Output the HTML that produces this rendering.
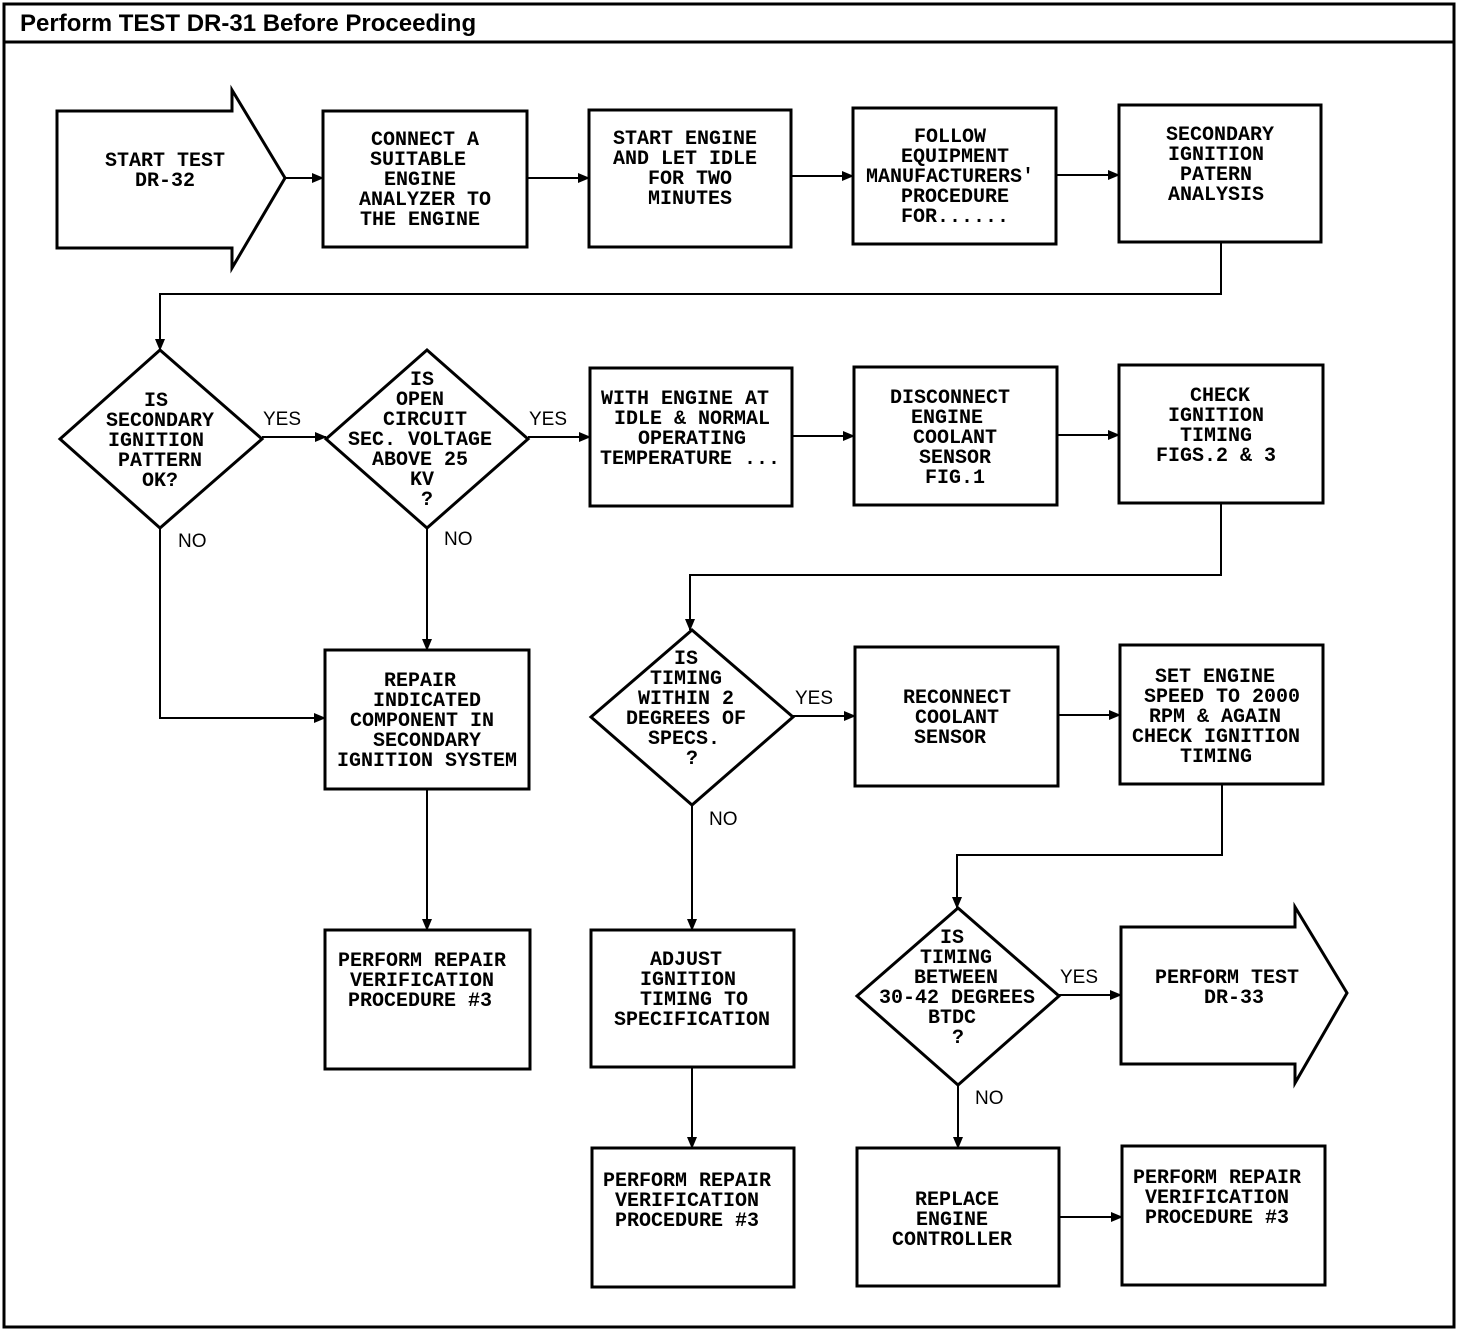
<!DOCTYPE html>
<html><head><meta charset="utf-8"><style>
body{margin:0;background:#fff}
svg{display:block}
.t{font-family:"Liberation Mono",monospace;font-size:20px;font-weight:bold;text-anchor:middle;fill:#000}
.l{font-family:"Liberation Sans",sans-serif;font-size:19px;fill:#000}
</style></head><body>
<svg width="1472" height="1330" viewBox="0 0 1472 1330" xmlns="http://www.w3.org/2000/svg">
<defs><marker id="a" markerWidth="12" markerHeight="10" refX="11" refY="5" orient="auto" markerUnits="userSpaceOnUse"><path d="M0,0 L12,5 L0,10 Z" fill="#000"/></marker></defs>
<rect x="4" y="4" width="1450" height="1323" fill="none" stroke="#000" stroke-width="3"/>
<line x1="4" y1="42" x2="1454" y2="42" stroke="#000" stroke-width="3"/>
<text x="20" y="31" font-family="Liberation Sans,sans-serif" font-size="24" font-weight="bold">Perform TEST DR-31 Before Proceeding</text>
<g fill="none" stroke="#000" stroke-width="3">
<polygon points="57,111 232,111 232,90 285,178 232,268 232,248 57,248"/>
<rect x="323" y="111" width="204" height="136"/>
<rect x="589" y="110" width="202" height="137"/>
<rect x="853" y="108" width="203" height="136"/>
<rect x="1119" y="105" width="202" height="137"/>
<polygon points="160,350 262,439 160,528 60,439"/>
<polygon points="427,350 528,439 427,528 326,439"/>
<rect x="590" y="368" width="202" height="138"/>
<rect x="854" y="367" width="203" height="138"/>
<rect x="1119" y="365" width="204" height="138"/>
<rect x="325" y="650" width="204" height="139"/>
<rect x="325" y="930" width="205" height="139"/>
<polygon points="692,630 793,717 692,805 591,717"/>
<rect x="855" y="647" width="203" height="139"/>
<rect x="1120" y="645" width="203" height="139"/>
<rect x="591" y="930" width="203" height="137"/>
<rect x="592" y="1148" width="202" height="139"/>
<polygon points="958,908 1059,996 958,1085 857,996"/>
<polygon points="1121,927 1295,927 1295,907 1347,993 1295,1083 1295,1064 1121,1064"/>
<rect x="857" y="1148" width="202" height="138"/>
<rect x="1122" y="1146" width="203" height="139"/>
</g>
<g fill="none" stroke="#000" stroke-width="2" marker-end="url(#a)">
<line x1="285" y1="178" x2="323" y2="178"/>
<line x1="527" y1="178" x2="589" y2="178"/>
<line x1="791" y1="176" x2="853" y2="176"/>
<line x1="1056" y1="175" x2="1119" y2="175"/>
<polyline points="1221,242 1221,294 160,294 160,350"/>
<line x1="262" y1="437" x2="326" y2="437"/>
<line x1="528" y1="437" x2="590" y2="437"/>
<line x1="792" y1="436" x2="854" y2="436"/>
<line x1="1057" y1="435" x2="1119" y2="435"/>
<polyline points="1221,503 1221,575 690,575 690,630"/>
<polyline points="160,528 160,718 325,718"/>
<line x1="427" y1="528" x2="427" y2="650"/>
<line x1="427" y1="789" x2="427" y2="930"/>
<line x1="793" y1="716" x2="855" y2="716"/>
<line x1="1058" y1="715" x2="1120" y2="715"/>
<polyline points="1222,784 1222,855 957,855 957,908"/>
<line x1="692" y1="805" x2="692" y2="930"/>
<line x1="692" y1="1067" x2="692" y2="1148"/>
<line x1="1059" y1="995" x2="1121" y2="995"/>
<line x1="958" y1="1085" x2="958" y2="1148"/>
<line x1="1059" y1="1217" x2="1122" y2="1217"/>
</g>
<g class="l"><text x="263" y="425">YES</text><text x="529" y="425">YES</text><text x="795" y="704">YES</text><text x="1060" y="983">YES</text>
<text x="178" y="547">NO</text><text x="444" y="545">NO</text><text x="709" y="825">NO</text><text x="975" y="1104">NO</text></g>
<g class="t">
<text x="165" y="166">START TEST</text><text x="165" y="186">DR-32</text>
<text x="425" y="145">CONNECT A</text><text x="418" y="165">SUITABLE</text><text x="420" y="185">ENGINE</text><text x="425" y="205">ANALYZER TO</text><text x="420" y="225">THE ENGINE</text>
<text x="685" y="144">START ENGINE</text><text x="685" y="164">AND LET IDLE</text><text x="690" y="184">FOR TWO</text><text x="690" y="204">MINUTES</text>
<text x="950" y="142">FOLLOW</text><text x="955" y="162">EQUIPMENT</text><text x="950" y="182">MANUFACTURERS'</text><text x="955" y="202">PROCEDURE</text><text x="955" y="222">FOR......</text>
<text x="1220" y="140">SECONDARY</text><text x="1216" y="160">IGNITION</text><text x="1216" y="180">PATERN</text><text x="1216" y="200">ANALYSIS</text>
<text x="156" y="406">IS</text><text x="160" y="426">SECONDARY</text><text x="156" y="446">IGNITION</text><text x="160" y="466">PATTERN</text><text x="160" y="486">OK?</text>
<text x="422" y="385">IS</text><text x="420" y="405">OPEN</text><text x="425" y="425">CIRCUIT</text><text x="420" y="445">SEC. VOLTAGE</text><text x="420" y="465">ABOVE 25</text><text x="422" y="485">KV</text><text x="427" y="505">?</text>
<text x="685" y="404">WITH ENGINE AT</text><text x="692" y="424">IDLE &amp; NORMAL</text><text x="692" y="444">OPERATING</text><text x="690" y="464">TEMPERATURE ...</text>
<text x="950" y="403">DISCONNECT</text><text x="947" y="423">ENGINE</text><text x="955" y="443">COOLANT</text><text x="955" y="463">SENSOR</text><text x="955" y="483">FIG.1</text>
<text x="1220" y="401">CHECK</text><text x="1216" y="421">IGNITION</text><text x="1216" y="441">TIMING</text><text x="1216" y="461">FIGS.2 &amp; 3</text>
<text x="420" y="686">REPAIR</text><text x="427" y="706">INDICATED</text><text x="422" y="726">COMPONENT IN</text><text x="427" y="746">SECONDARY</text><text x="427" y="766">IGNITION SYSTEM</text>
<text x="422" y="966">PERFORM REPAIR</text><text x="422" y="986">VERIFICATION</text><text x="420" y="1006">PROCEDURE #3</text>
<text x="686" y="664">IS</text><text x="686" y="684">TIMING</text><text x="686" y="704">WITHIN 2</text><text x="686" y="724">DEGREES OF</text><text x="684" y="744">SPECS.</text><text x="692" y="764">?</text>
<text x="957" y="703">RECONNECT</text><text x="957" y="723">COOLANT</text><text x="950" y="743">SENSOR</text>
<text x="1215" y="682">SET ENGINE</text><text x="1222" y="702">SPEED TO 2000</text><text x="1215" y="722">RPM &amp; AGAIN</text><text x="1216" y="742">CHECK IGNITION</text><text x="1216" y="762">TIMING</text>
<text x="686" y="965">ADJUST</text><text x="688" y="985">IGNITION</text><text x="694" y="1005">TIMING TO</text><text x="692" y="1025">SPECIFICATION</text>
<text x="687" y="1186">PERFORM REPAIR</text><text x="687" y="1206">VERIFICATION</text><text x="687" y="1226">PROCEDURE #3</text>
<text x="952" y="943">IS</text><text x="956" y="963">TIMING</text><text x="956" y="983">BETWEEN</text><text x="957" y="1003">30-42 DEGREES</text><text x="952" y="1023">BTDC</text><text x="958" y="1043">?</text>
<text x="957" y="1205">REPLACE</text><text x="952" y="1225">ENGINE</text><text x="952" y="1245">CONTROLLER</text>
<text x="1227" y="983">PERFORM TEST</text><text x="1234" y="1003">DR-33</text>
<text x="1217" y="1183">PERFORM REPAIR</text><text x="1217" y="1203">VERIFICATION</text><text x="1217" y="1223">PROCEDURE #3</text>
</g>
</svg>
</body></html>
